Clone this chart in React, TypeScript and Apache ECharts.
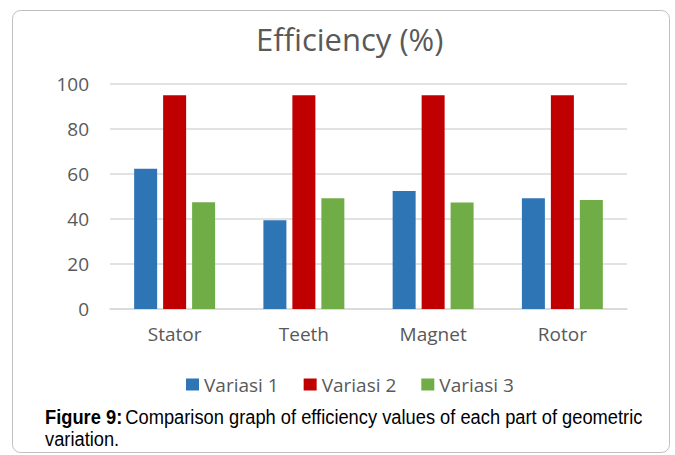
import React, { useEffect, useRef } from "react";
import * as echarts from "echarts";

const categories = ["Stator", "Teeth", "Magnet", "Rotor"];
const variasi1 = [62.3, 39.5, 52.5, 49.2];
const variasi2 = [95, 95, 95, 95];
const variasi3 = [47.5, 49.2, 47.3, 48.4];
const seriesNames = ["Variasi 1", "Variasi 2", "Variasi 3"];
const colors = ["#2E75B6", "#C00000", "#70AD47"];

export default function App() {
  const ref = useRef<HTMLDivElement>(null);
  useEffect(() => {
    if (!ref.current) return;
    const chart = echarts.init(ref.current, undefined, { renderer: "svg" });
    const font = "'Open Sans', 'Noto Sans', sans-serif";
    const capFont = "'Liberation Sans Narrow', 'Liberation Sans', Arial, sans-serif";
    chart.setOption({
      animation: false,
      backgroundColor: "#ffffff",
      title: {
        text: "Efficiency (%)",
        left: 251,
        top: 18,
        textStyle: { fontFamily: font, fontSize: 31, fontWeight: "normal", color: "#595959" },
      },
      legend: {
        data: seriesNames,
        left: 181,
        top: 370,
        itemWidth: 13,
        itemHeight: 12,
        itemGap: 25,
        icon: "rect",
        textStyle: { fontFamily: font, fontSize: 19, color: "#595959" },
      },
      grid: { left: 110, right: 48, top: 84, bottom: 146, containLabel: false },
      xAxis: {
        type: "category",
        data: categories,
        axisLine: { show: true, lineStyle: { color: "#d9d9d9", width: 1.5 } },
        axisTick: { show: false },
        axisLabel: { fontFamily: font, fontSize: 19, color: "#595959", margin: 15 },
      },
      yAxis: {
        type: "value",
        min: 0,
        max: 100,
        interval: 20,
        axisLine: { show: false },
        axisTick: { show: false },
        splitLine: { lineStyle: { color: "#d9d9d9", width: 1.5 } },
        axisLabel: { fontFamily: font, fontSize: 19, color: "#595959", margin: 21 },
      },
      series: [variasi1, variasi2, variasi3].map((d, i) => ({
        name: seriesNames[i],
        type: "bar",
        data: d,
        barWidth: 23,
        barGap: "26%",
        itemStyle: { color: colors[i] },
      })),
      graphic: [
        {
          type: "rect",
          shape: { x: 12.5, y: 10.5, width: 657, height: 442, r: 8 },
          style: { fill: "none", stroke: "#bfbfbf", lineWidth: 1 },
          z: -1,
        },
        {
          type: "text",
          x: 45,
          y: 407,
          scaleX: 0.915,
          style: {
            text: "{b|Figure 9:} {n|Comparison graph of efficiency values of each part of geometric}",
            rich: {
              b: { fontFamily: capFont, fontSize: 20, fontWeight: "bold", fill: "#000" },
              n: { fontFamily: capFont, fontSize: 20, fill: "#000" },
            },
          },
        },
        {
          type: "text",
          x: 45,
          y: 429,
          scaleX: 0.915,
          style: {
            text: "variation.",
            fontFamily: capFont,
            fontSize: 20,
            fill: "#000",
          },
        },
      ],
    });
    return () => chart.dispose();
  }, []);
  return (
    <div
      ref={ref}
      style={{ position: "fixed", left: 0, top: 0, width: 675, height: 455 }}
    />
  );
}
